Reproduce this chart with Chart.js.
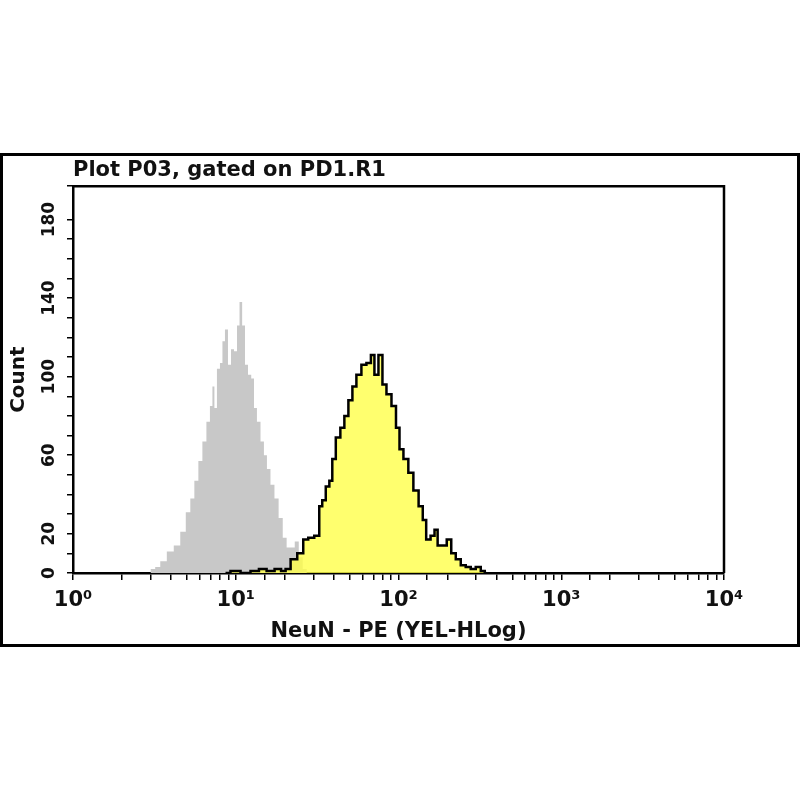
<!DOCTYPE html>
<html>
<head>
<meta charset="utf-8">
<script src="https://cdn.jsdelivr.net/npm/chart.js@4/dist/chart.umd.min.js"></script>
<style>
  html, body { margin: 0; padding: 0; background: #fff; }
  #frame { position: absolute; left: 0; top: 153px; width: 800px; height: 494px;
           box-sizing: border-box; border: 3px solid #000; }
  #frame canvas { display: block; }
</style>
</head>
<body>
<div id="frame"><canvas id="histo" width="794" height="488"></canvas></div>
<script>
// Histograma - canal (eixo X log) e contagens
const controleX = [2.9, 3.11, 3.29, 3.59, 3.96, 4.37, 4.76, 5.11, 5.41, 5.73, 6.06, 6.42, 6.79, 7.09, 7.29, 7.5, 7.83, 8.17, 8.4, 8.77, 9.15, 9.55, 9.96, 10.4, 10.7, 11.2, 11.6, 12.2, 12.7, 13.2, 13.8, 14.6, 15.2, 15.9, 16.8, 17.8, 18.9, 20.0, 21.1, 22.4, 23.7, 25.1, 26.5, 28.1];
const controleContagem = [0, 2, 3, 6, 11, 14, 21, 31, 38, 47, 57, 67, 77, 85, 95, 84, 104, 107, 118, 124, 106, 114, 113, 126, 138, 126, 106, 101, 99, 84, 77, 67, 60, 53, 45, 38, 28, 18, 13, 13, 16, 8, 2, 0];

const neunX = [8.65, 9.96, 11.5, 13.2, 14.6, 16.4, 18.3, 19.7, 20.8, 22.7, 25.1, 26.9, 28.9, 31.9, 33.3, 34.7, 36.8, 38.4, 40.0, 42.4, 45.5, 47.5, 51.0, 53.2, 57.1, 61.3, 65.8, 69.6, 72.7, 78.0, 81.4, 87.4, 93.8, 99.3, 103.6, 111, 119, 128, 138, 144, 152, 163, 170, 178, 191, 205, 217, 233, 250, 268, 288, 309, 332, 346];
const neunContagem = [0, 1, 0, 1, 2, 1, 2, 1, 2, 7, 10, 17, 18, 19, 34, 37, 44, 47, 58, 69, 74, 80, 88, 95, 101, 106, 107, 111, 101, 111, 96, 91, 85, 74, 63, 58, 51, 42, 34, 27, 17, 19, 22, 14, 14, 17, 10, 7, 4, 3, 2, 3, 1, 0];

const rotulosY = [0, 20, 60, 100, 140, 180]; // rótulos visíveis do eixo Y
const expoentes = ['\u2070', '\u00B9', '\u00B2', '\u00B3', '\u2074']; // 10^0 .. 10^4

const pontos = (xs, ys) => xs.map((x, i) => ({ x: x, y: ys[i] }));

// moldura do gráfico (lados de cima e direita)
const moldura = {
  id: 'moldura',
  afterDraw(chart) {
    const a = chart.chartArea, c = chart.ctx;
    c.save();
    c.strokeStyle = '#000';
    c.lineWidth = 2.5;
    c.beginPath();
    c.moveTo(a.left, a.top);
    c.lineTo(a.right, a.top);
    c.lineTo(a.right, a.bottom);
    c.stroke();
    c.restore();
  }
};

const fonte = 'DejaVu Sans';

const ctx = document.getElementById('histo').getContext('2d');
const grafico = new Chart(ctx, {
  type: 'line',
  data: {
    datasets: [{
      label: 'NeuN',
      data: pontos(neunX, neunContagem),
      stepped: 'middle',
      borderColor: '#000',
      borderWidth: 2.5,
      backgroundColor: 'rgba(255,255,74,0.8)',
      fill: 'origin',
      pointRadius: 0,
      order: 0
    }, {
      label: 'Controle',
      data: pontos(controleX, controleContagem),
      stepped: 'middle',
      borderWidth: 0,
      borderColor: 'rgba(0,0,0,0)',
      backgroundColor: 'rgb(200,200,200)',
      fill: 'origin',
      pointRadius: 0,
      order: 1
    }]
  },
  options: {
    responsive: false,
    animation: false,
    layout: { padding: { left: 0, right: 73, top: 0, bottom: 0 } },
    plugins: {
      legend: { display: false },
      tooltip: { enabled: false },
      title: {
        display: true,
        text: 'Plot P03, gated on PD1.R1',
        align: 'start',
        fullSize: false,
        color: '#111',
        font: { family: fonte, size: 21, weight: 'bold' },
        padding: { top: 2, bottom: 3 }
      }
    },
    scales: {
      x: {
        type: 'logarithmic',
        min: 1,
        max: 10000,
        afterFit(s) { s.height = 71; },
        border: { color: '#000', width: 2.5 },
        grid: { drawOnChartArea: false, drawTicks: true, tickLength: 7, color: '#000', lineWidth: 1.5 },
        ticks: {
          autoSkip: false,
          maxRotation: 0,
          color: '#111',
          padding: 8,
          font: { family: fonte, size: 21, weight: 'bold' },
          callback(v) {
            const e = Math.round(Math.log10(v));
            return Math.abs(Math.log10(v) - e) < 1e-6 ? '10' + expoentes[e] : '';
          }
        },
        title: {
          display: true,
          text: 'NeuN - PE (YEL-HLog)',
          color: '#111',
          font: { family: fonte, size: 21, weight: 'bold' },
          padding: { top: 0, bottom: 0 }
        }
      },
      y: {
        min: 0,
        max: 197,
        afterFit(s) { s.width = 70; },
        border: { color: '#000', width: 2.5 },
        grid: { drawOnChartArea: false, drawTicks: true, tickLength: 6, color: '#000', lineWidth: 1.5 },
        ticks: {
          stepSize: 10,
          autoSkip: false,
          minRotation: 90,
          maxRotation: 90,
          crossAlign: 'center',
          color: '#111',
          padding: 0,
          font: { family: fonte, size: 17, weight: 'bold' },
          callback(v) { return rotulosY.includes(v) ? String(v) : ''; }
        },
        title: {
          display: true,
          text: 'Count',
          color: '#111',
          font: { family: fonte, size: 20, weight: 'bold' },
          padding: { top: 4, bottom: 0 }
        }
      }
    }
  },
  plugins: [moldura]
});
</script>
</body>
</html>
